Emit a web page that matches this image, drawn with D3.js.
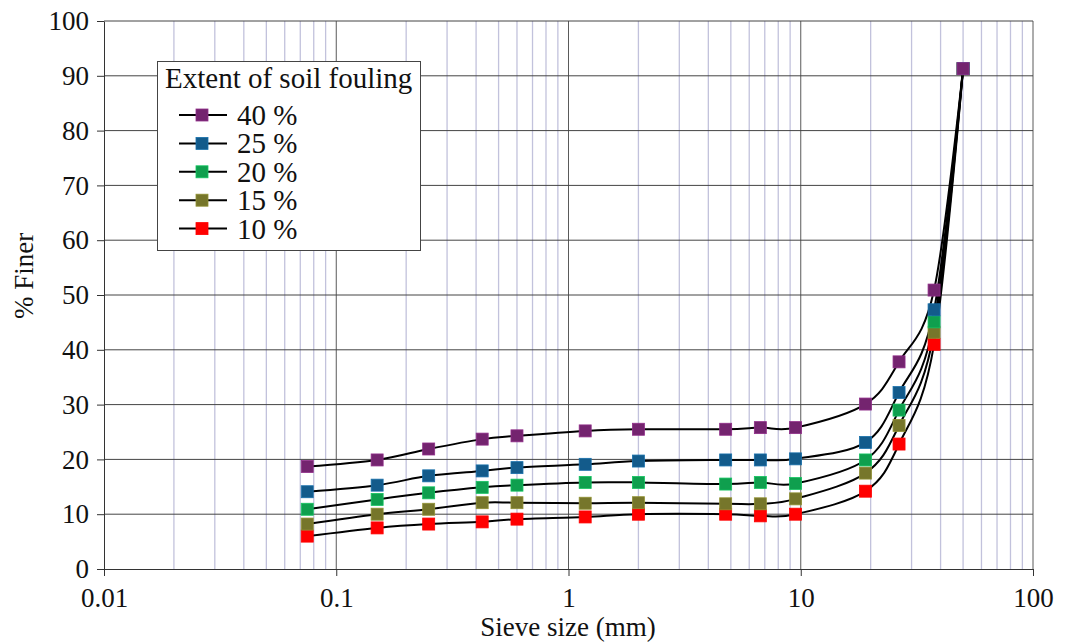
<!DOCTYPE html>
<html>

<head>
    <title>Soil fouling gradation</title>
    <script src="https://d3js.org/d3.v7.min.js"></script>
    <style>
        body {
            margin: 0;
            background: #fff;
        }

        svg text {
            font-family: "Liberation Serif", "Times New Roman", serif;
            fill: #111;
        }
    </style>
</head>

<body>
    <div id="chart"></div>
    <script>
        // sieve sizes (mm) and % finer for each extent of fouling
        const sieveSizes = [0.075, 0.15, 0.25, 0.425, 0.6, 1.18, 2, 4.75, 6.7, 9.5, 19, 26.5, 37.5, 50];
        const fouling40 = [18.7, 19.9, 21.9, 23.7, 24.3, 25.2, 25.5, 25.5, 25.8, 25.8, 30.1, 37.8, 50.9, 91.3];
        const fouling25 = [14.1, 15.3, 17.0, 17.9, 18.5, 19.1, 19.7, 19.9, 19.9, 20.1, 23.1, 32.2, 47.3, 91.3];
        const fouling20 = [10.9, 12.7, 13.9, 14.9, 15.3, 15.8, 15.8, 15.5, 15.8, 15.6, 19.9, 29.0, 45.1, 91.3];
        const fouling15 = [8.2, 10.0, 10.9, 12.1, 12.1, 12.0, 12.1, 11.9, 11.9, 12.8, 17.5, 26.2, 43.2, 91.3];
        const fouling10 = [6.0, 7.5, 8.2, 8.6, 9.1, 9.5, 10.0, 10.0, 9.7, 10.0, 14.2, 22.8, 41.0, 91.3];

        const seriesNames = ["40 %", "25 %", "20 %", "15 %", "10 %"];
        const seriesValues = [fouling40, fouling25, fouling20, fouling15, fouling10];
        const seriesColors = ["#74246f", "#135b8b", "#0f9f4e", "#76762b", "#ff0000"];

        const xTicks = [0.01, 0.1, 1, 10, 100];
        const yTicks = d3.range(0, 101, 10);

        const serif = '"Liberation Serif", "Times New Roman", serif';
        const width = 1065, height = 642;
        const svg = d3.select("#chart").append("svg")
            .attr("width", width)
            .attr("height", height);

        const x = d3.scaleLog().domain([0.01, 100]).range([104, 1033]);
        const y = d3.scaleLinear().domain([0, 100]).range([569, 21]);

        // minor vertical grid (2..9 in each decade)
        const minor = [];
        for (let d = 0.01; d < 100; d *= 10) {
            for (let k = 2; k <= 9; k++) minor.push(d * k);
        }
        svg.append("g").selectAll("line")
            .data(minor)
            .join("line")
            .attr("x1", d => x(d)).attr("x2", d => x(d))
            .attr("y1", y(100)).attr("y2", y(0))
            .attr("stroke", "#c2c2dc")
            .attr("stroke-width", 1.3);

        // major grid
        svg.append("g").selectAll("line")
            .data(xTicks.slice(1))
            .join("line")
            .attr("x1", d => x(d)).attr("x2", d => x(d))
            .attr("y1", y(100)).attr("y2", y(0))
            .attr("stroke", "#5a5a5a")
            .attr("stroke-width", 1);
        svg.append("g").selectAll("line")
            .data(yTicks.slice(1))
            .join("line")
            .attr("x1", x(0.01)).attr("x2", x(100))
            .attr("y1", d => y(d)).attr("y2", d => y(d))
            .attr("stroke", "#444")
            .attr("stroke-width", 1);

        // axes
        const yAxis = svg.append("g")
            .attr("transform", `translate(${x(0.01)},0)`)
            .call(d3.axisLeft(y).tickValues(yTicks).tickSize(7).tickSizeOuter(0).tickPadding(8));
        const xAxis = svg.append("g")
            .attr("transform", `translate(0,${y(0)})`)
            .call(d3.axisBottom(x).tickValues(xTicks).tickFormat(d => String(d)).tickSize(7).tickSizeOuter(0).tickPadding(12));
        [xAxis, yAxis].forEach(a => {
            a.attr("font-family", serif);
            a.select(".domain").attr("stroke", "#333");
            a.selectAll(".tick line").attr("stroke", "#333");
            a.selectAll("text").style("font-size", "27px").style("font-family", serif).attr("fill", "#111");
        });

        svg.append("text")
            .attr("x", 568).attr("y", 636)
            .attr("text-anchor", "middle")
            .style("font-size", "27px")
            .text("Sieve size (mm)");
        svg.append("text")
            .attr("transform", "translate(33,276) rotate(-90)")
            .attr("text-anchor", "middle")
            .style("font-size", "27px")
            .text("% Finer");

        // lines (smoothed) then markers, 10 % drawn first so 40 % sits on top
        const line = d3.line()
            .x((d, i) => x(sieveSizes[i]))
            .y(d => y(d))
            .curve(d3.curveCardinal.tension(0));
        const order = [4, 3, 2, 1, 0];
        svg.append("g").selectAll("path")
            .data(order)
            .join("path")
            .attr("d", i => line(seriesValues[i]))
            .attr("fill", "none")
            .attr("stroke", "#000")
            .attr("stroke-width", 2);
        order.forEach(i => {
            svg.append("g").selectAll("rect")
                .data(seriesValues[i])
                .join("rect")
                .attr("x", (d, j) => x(sieveSizes[j]) - 6)
                .attr("y", d => y(d) - 6)
                .attr("width", 12).attr("height", 12)
                .attr("fill", seriesColors[i])
                .attr("stroke", d3.color(seriesColors[i]).brighter(0.6))
                .attr("stroke-width", 0.8);
        });

        // legend
        const legend = svg.append("g");
        legend.append("rect")
            .attr("x", 157.5).attr("y", 61.5)
            .attr("width", 263).attr("height", 189)
            .attr("fill", "#fff")
            .attr("stroke", "#444");
        legend.append("text")
            .attr("x", 165).attr("y", 88)
            .style("font-size", "29px")
            .text("Extent of soil fouling");
        seriesNames.forEach((name, i) => {
            const cy = 115 + i * 28.4;
            legend.append("line")
                .attr("x1", 179).attr("x2", 227)
                .attr("y1", cy).attr("y2", cy)
                .attr("stroke", "#000").attr("stroke-width", 2);
            legend.append("rect")
                .attr("x", 196).attr("y", cy - 6)
                .attr("width", 12).attr("height", 12)
                .attr("fill", seriesColors[i])
                .attr("stroke", d3.color(seriesColors[i]).brighter(0.6))
                .attr("stroke-width", 0.8);
            legend.append("text")
                .attr("x", 237).attr("y", cy + 10)
                .style("font-size", "29px")
                .text(name);
        });
    </script>
</body>

</html>
